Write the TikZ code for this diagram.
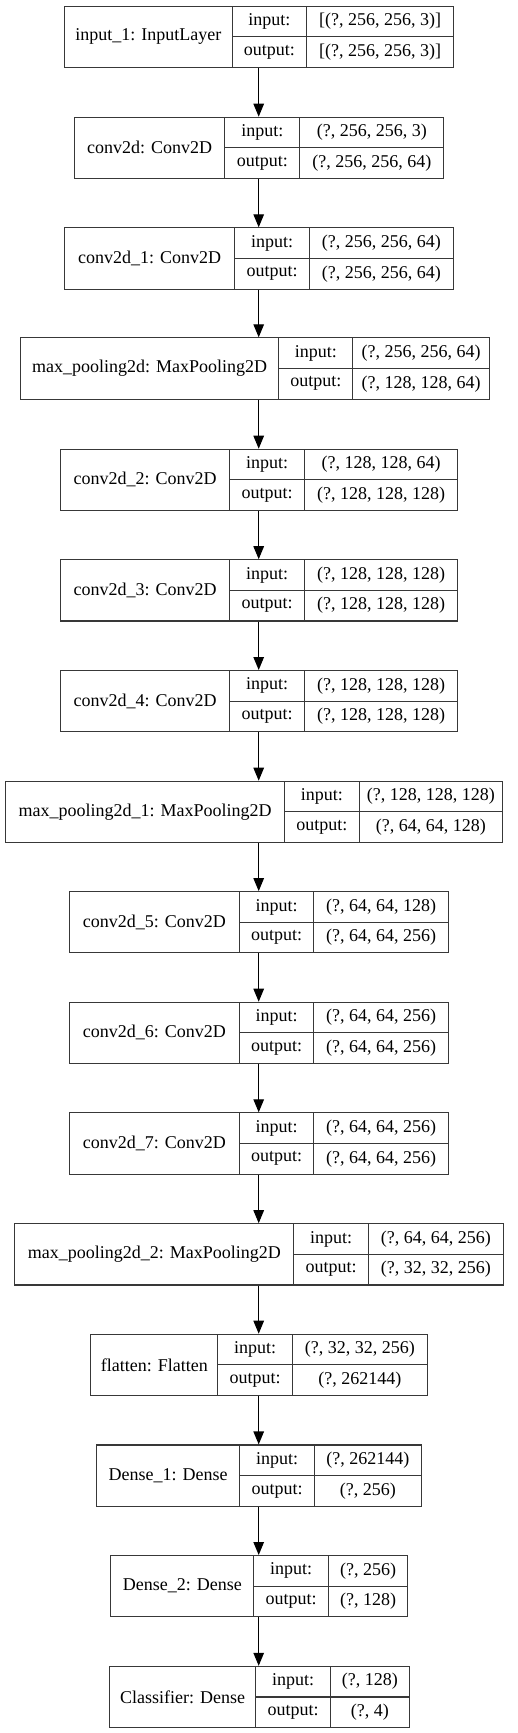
\documentclass[tikz,border=0pt]{standalone}
\usepackage{fontspec}
\setmainfont{Liberation Serif}
\usetikzlibrary{arrows.meta}
\begin{document}
\begin{tikzpicture}[x=1pt,y=-1pt,
  cellbox/.style={draw=black!78, line width=1.1pt, inner sep=0pt, anchor=north west,
    font=\fontsize{18}{21}\selectfont, text=black},
  flow/.style={draw=black, line width=1.2pt, -{Triangle[length=13pt,width=10.5pt]}}]
\useasboundingbox (0,0) rectangle (517,1733);
\fill[white] (0,0) rectangle (517,1733);
\newcommand\layer[9]{%
  \pgfmathsetmacro\wa{#4-#3}%
  \pgfmathsetmacro\wb{#5-#4}%
  \pgfmathsetmacro\wc{#6-#5}%
  \pgfmathsetmacro\ym{#2+30.6}%
  \node[cellbox, minimum width=\wa pt, minimum height=61.2pt] (#1) at (#3,#2) {#7};
  \node[cellbox, minimum width=\wb pt, minimum height=30.6pt] (#1-ik) at (#4,#2) {input:};
  \node[cellbox, minimum width=\wc pt, minimum height=30.6pt] (#1-iv) at (#5,#2) {#8};
  \node[cellbox, minimum width=\wb pt, minimum height=30.6pt] (#1-ok) at (#4,\ym) {output:};
  \node[cellbox, minimum width=\wc pt, minimum height=30.6pt] (#1-ov) at (#5,\ym) {#9};
}
\layer{L1}{5.7}{63.7}{231.7}{306}{453.3}{input\_1: InputLayer}{[(?, 256, 256, 3)]}{[(?, 256, 256, 3)]}
\layer{L2}{116.7}{73.7}{224.3}{299.3}{443.3}{conv2d: Conv2D}{(?, 256, 256, 3)}{(?, 256, 256, 64)}
\layer{L3}{227.3}{64.3}{234}{309}{452.7}{conv2d\_1: Conv2D}{(?, 256, 256, 64)}{(?, 256, 256, 64)}
\layer{L4}{337.3}{20}{278.3}{352.3}{488.7}{max\_pooling2d: MaxPooling2D}{(?, 256, 256, 64)}{(?, 128, 128, 64)}
\layer{L5}{448.7}{59.7}{229.3}{304}{457.3}{conv2d\_2: Conv2D}{(?, 128, 128, 64)}{(?, 128, 128, 128)}
\layer{L6}{559.2}{59.7}{229.3}{304}{457.3}{conv2d\_3: Conv2D}{(?, 128, 128, 128)}{(?, 128, 128, 128)}
\layer{L7}{670}{59.7}{229.3}{304}{457.3}{conv2d\_4: Conv2D}{(?, 128, 128, 128)}{(?, 128, 128, 128)}
\layer{L8}{780.7}{5}{284}{358.7}{502}{max\_pooling2d\_1: MaxPooling2D}{(?, 128, 128, 128)}{(?, 64, 64, 128)}
\layer{L9}{891.1}{69}{238.7}{313.3}{447.7}{conv2d\_5: Conv2D}{(?, 64, 64, 128)}{(?, 64, 64, 256)}
\layer{L10}{1001.7}{69}{238.7}{313.3}{447.7}{conv2d\_6: Conv2D}{(?, 64, 64, 256)}{(?, 64, 64, 256)}
\layer{L11}{1112.3}{69}{238.7}{313.3}{447.7}{conv2d\_7: Conv2D}{(?, 64, 64, 256)}{(?, 64, 64, 256)}
\layer{L12}{1223.2}{14.3}{293.3}{368}{502.7}{max\_pooling2d\_2: MaxPooling2D}{(?, 64, 64, 256)}{(?, 32, 32, 256)}
\layer{L13}{1333.7}{90.3}{217.3}{292}{426.7}{flatten: Flatten}{(?, 32, 32, 256)}{(?, 262144)}
\layer{L14}{1444.4}{96.3}{239}{314}{420.7}{Dense\_1: Dense}{(?, 262144)}{(?, 256)}
\layer{L15}{1555}{110.3}{253.3}{328}{407}{Dense\_2: Dense}{(?, 256)}{(?, 128)}
\layer{L16}{1665.8}{108.7}{255.3}{330}{408.7}{Classifier: Dense}{(?, 128)}{(?, 4)}
\coordinate (ax) at (258.7,0);
\foreach \a/\b in {L1/L2,L2/L3,L3/L4,L4/L5,L5/L6,L6/L7,L7/L8,L8/L9,L9/L10,L10/L11,L11/L12,L12/L13,L13/L14,L14/L15,L15/L16}
  \draw[flow] (\a.south -| ax) -- (\b.north -| ax);
\end{tikzpicture}
\end{document}
